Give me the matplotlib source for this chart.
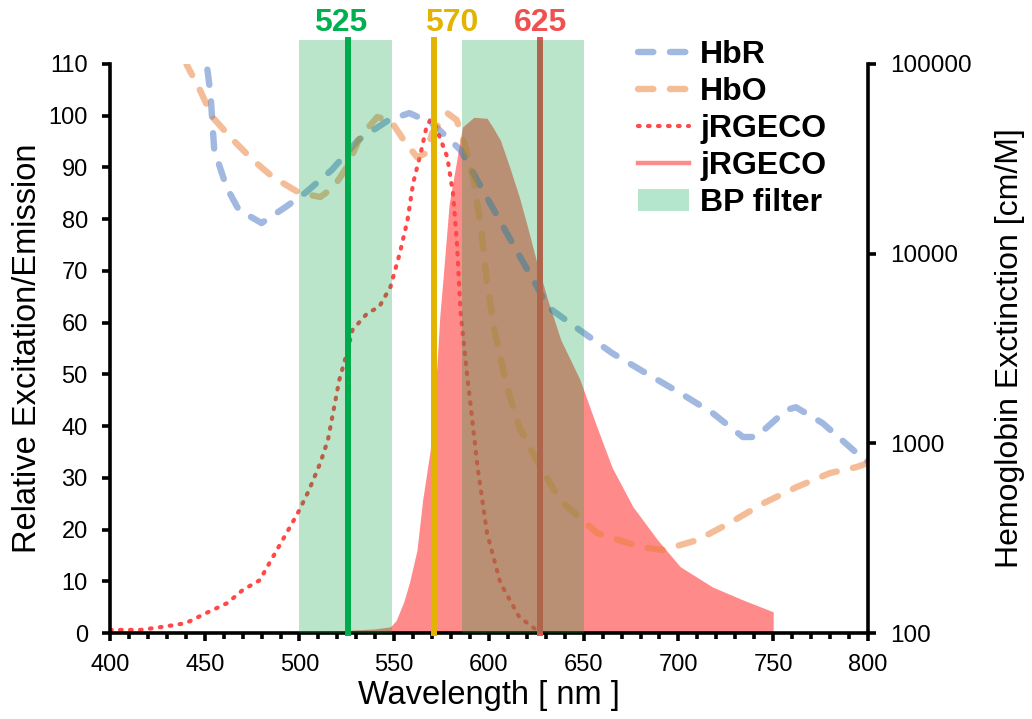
import matplotlib
matplotlib.use("Agg")
import matplotlib.pyplot as plt
from matplotlib.lines import Line2D
from matplotlib.patches import Patch
from matplotlib.ticker import MultipleLocator, FixedLocator, FixedFormatter, NullLocator

plt.rcParams['font.family'] = ['Liberation Sans', 'DejaVu Sans']

# ---------------- data ----------------
ex_wl = [400, 416, 428, 440, 451, 462, 470, 479, 483, 488, 495, 500, 505, 511, 515, 518, 521,
         525, 528, 536, 542, 548, 553, 557, 560, 564, 567, 569, 572, 578, 581, 583, 585, 588,
         590, 594, 599, 606, 616, 625, 627]
ex_val = [0.6, 0.6, 1.2, 1.9, 3.9, 5.8, 8.3, 10.2, 12.8, 16, 20.5, 23.8, 27.6, 32.9, 37.3, 43.1,
          48.9, 54.1, 58.6, 61.9, 63, 66.9, 73.5, 79.8, 87, 92.8, 97.8, 99.2, 97.8, 92, 85, 76,
          62, 51.4, 45, 32, 19.3, 9.7, 3.1, 0.6, 0]

em_wl = [500, 520, 540, 548, 551, 555, 558, 562, 565, 569, 572.5, 574, 576, 579, 583, 586, 592,
         599, 602, 606, 611, 616, 620, 625, 631, 638, 648, 657, 665, 676, 689, 701, 718, 734, 750]
em_val = [0.2, 0.4, 0.8, 1.2, 2.4, 6.0, 9.7, 16, 25.7, 35.4, 51.4, 61, 69.6, 83, 91.4, 97.8,
          99.7, 99.5, 97.8, 95.3, 90, 84.3, 79, 72, 64.4, 56.6, 49, 39.8, 32, 24.4, 18, 12.8,
          8.9, 6.4, 4.1]

hbr_wl = [445, 451, 453, 455, 461.5, 468, 480, 492.6, 503, 517, 531, 547, 558, 570, 585, 600,
          615, 625, 631, 648, 665, 683, 701, 718, 734, 741, 757, 762, 776, 794, 800]
hbr_val = [200000, 100000, 70300, 35200, 22400, 17000, 14500, 17600, 20900, 27600, 39700, 50600,
           55100, 48700, 35200, 18900, 10200, 6800, 5240, 3950, 2990, 2340, 1840, 1445, 1080,
           1080, 1500, 1550, 1280, 890, 800]

hbo_wl = [435, 440.6, 447.5, 454, 465, 475.5, 486, 500, 511, 518, 525, 532, 541, 548, 555, 562,
          567, 570, 578, 583, 588, 592, 596, 599, 603, 609.5, 616, 625, 637.5, 657, 680, 692,
          710, 727, 745, 762.5, 780, 794, 800]
hbo_val = [150000, 98600, 72800, 52500, 39700, 31100, 25300, 20900, 19900, 22400, 28600, 41200,
           52500, 50600, 39700, 32300, 33900, 43200, 55100, 50600, 35200, 24400, 13300, 7000,
           3900, 1980, 1220, 817, 502, 337, 284, 274, 309, 380, 484, 589, 697, 750, 787]

bp_bands = [(500, 549), (586, 650)]
laser_labels = ['525', '570', '625']
laser_wl = [525.5, 571, 627]          # where the marker lines are drawn in the figure
laser_colors = ['#00B050', '#E2B400', '#F05050']

legend_labels = ['HbR', 'HbO', 'jRGECO', 'jRGECO', 'BP filter']

# ---------------- styles ----------------
hbr_color = '#4472C4'
hbo_color = '#ED7D31'
ex_color = '#FF4848'
em_color = '#FF8A8A'
band_color = (0.0, 0.63, 0.25)
band_alpha = 0.27
band_legend = '#B3E6CC'
label_dx_pt = [-5, 13, 0]   # label offsets (points) relative to their lines
hb_dash = (2.4, 2.6)
ex_dash = (0.4, 2.0)

fig = plt.figure(figsize=(10.32, 7.19), dpi=100)
ax = fig.add_axes([0.1066, 0.1196, 0.7344, 0.7914])
ax2 = ax.twinx()

# primary axis (linear)
ax.fill_between(em_wl, em_val, 0, color=em_color, lw=0, zorder=1)
ax.plot(ex_wl, ex_val, color=ex_color, lw=3.0, dashes=ex_dash,
        dash_capstyle='round', zorder=2)
ax.set_xlim(400, 800)
ax.set_ylim(0, 110)
ax.yaxis.set_major_locator(MultipleLocator(10))
ax.xaxis.set_major_locator(MultipleLocator(50))
ax.xaxis.set_minor_locator(MultipleLocator(10))

# secondary axis (log)
ax2.set_yscale('log')
ax2.set_ylim(100, 100000)
ax2.plot(hbr_wl, hbr_val, color=hbr_color, alpha=0.5, lw=4.6, dashes=hb_dash,
         dash_capstyle='round', zorder=2)
ax2.plot(hbo_wl, hbo_val, color=hbo_color, alpha=0.5, lw=4.6, dashes=hb_dash,
         dash_capstyle='round', zorder=2)
ax2.yaxis.set_major_locator(FixedLocator([100, 1000, 10000, 100000]))
ax2.yaxis.set_major_formatter(FixedFormatter(['100', '1000', '10000', '100000']))
ax2.yaxis.set_minor_locator(NullLocator())

ytop = 114.6 / 110.0
for wl, lab, c, dx in zip(laser_wl, laser_labels, laser_colors, label_dx_pt):
    ax2.axvline(wl, 0, ytop, color=c, lw=4.3, clip_on=False, zorder=3)
    ax2.annotate(lab, xy=(wl, 1.0 + 8.0 / 110.0), xycoords=ax2.get_xaxis_transform(),
                 xytext=(dx, 0), textcoords='offset points',
                 ha='center', va='center', fontsize=23, fontweight='bold', color=c)
for lo, hi in bp_bands:
    ax2.axvspan(lo, hi, 0, ytop, facecolor=band_color, alpha=band_alpha, lw=0,
                clip_on=False, zorder=4)

# spines / ticks
for a in (ax, ax2):
    a.spines['top'].set_visible(False)
    for s in ('left', 'right', 'bottom'):
        a.spines[s].set_linewidth(2.6)
ax.spines['right'].set_visible(False)
ax2.spines['left'].set_visible(False)
ax2.spines['bottom'].set_visible(False)

ax.tick_params(axis='y', which='major', direction='out', length=6, width=2.6,
               labelsize=17, pad=10)
ax.tick_params(axis='x', which='major', direction='out', length=6, width=2.6,
               labelsize=17, pad=9)
ax.tick_params(axis='x', which='minor', direction='out', length=4, width=2.6)
ax2.tick_params(axis='y', which='major', direction='out', length=6, width=2.6,
                labelsize=17.5, pad=10)

ax.set_xlabel('Wavelength [ nm ]', fontsize=23.5, labelpad=3)
ax.set_ylabel('Relative Excitation/Emission', fontsize=23.5, labelpad=4)
ax2.set_ylabel('Hemoglobin Exctinction [cm/M]', fontsize=23, labelpad=17)

handles = [
    Line2D([], [], color=hbr_color, alpha=0.5, lw=4.6, dashes=hb_dash, dash_capstyle='round'),
    Line2D([], [], color=hbo_color, alpha=0.5, lw=4.6, dashes=hb_dash, dash_capstyle='round'),
    Line2D([], [], color=ex_color, lw=3.0, dashes=ex_dash, dash_capstyle='round'),
    Line2D([], [], color=em_color, lw=3.2),
    Patch(facecolor=band_legend, edgecolor='none'),
]
leg = fig.legend(handles, legend_labels, loc='upper left', bbox_to_anchor=(0.618, 0.944),
                 frameon=False, prop={'size': 23, 'weight': 'bold'}, handlelength=1.6,
                 handletextpad=0.35, labelspacing=0.22, borderpad=0, borderaxespad=0)

fig.savefig('out.png', dpi=100)
